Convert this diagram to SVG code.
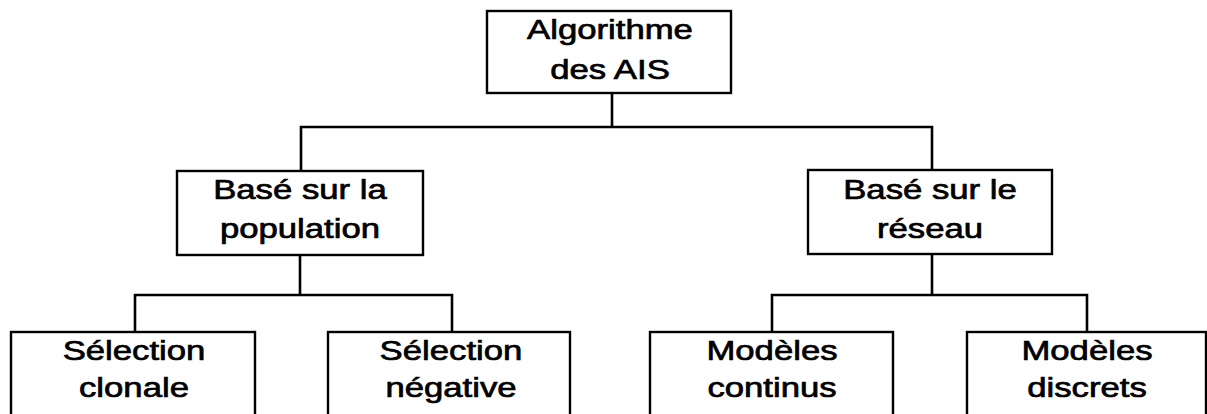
<svg xmlns="http://www.w3.org/2000/svg" width="1207" height="414" viewBox="0 0 1207 414">
  <style>
    .box { fill: #fff; stroke: #000; stroke-width: 2.4; }
    .link { fill: none; stroke: #000; stroke-width: 2.6; }
    .t {
      font-family: "Liberation Sans", Arial, sans-serif;
      font-size: 28px;
      fill: #000;
      stroke: #000;
      stroke-width: 0.7;
      text-anchor: middle;
      transform-box: fill-box;
      transform-origin: center;
      transform: scaleX(1.24);
    }
  </style>
  <rect width="1207" height="414" fill="#fff"/>

  <!-- tree connectors -->
  <g id="connectors">
    <path class="link" d="M612 93 V127 M301 171 V127 H932 V170"/>
    <path class="link" d="M300 255 V295 M135 332 V295 H452 V332"/>
    <path class="link" d="M932 254 V295 M772 332 V295 H1087 V332"/>
  </g>

  <!-- root -->
  <g id="root">
    <rect class="box" x="487" y="11" width="244" height="82"/>
    <text class="t" x="610" y="39.5">Algorithme</text>
    <text class="t" x="610" y="79.5">des AIS</text>
  </g>

  <!-- second level -->
  <g id="population">
    <rect class="box" x="177" y="171" width="246" height="84"/>
    <text class="t" x="300" y="199.5">Basé sur la</text>
    <text class="t" x="300" y="238.5">population</text>
  </g>
  <g id="reseau">
    <rect class="box" x="808" y="170" width="244" height="84"/>
    <text class="t" x="930" y="199.5">Basé sur le</text>
    <text class="t" x="930" y="238.5">réseau</text>
  </g>

  <!-- leaves (run past the lower edge) -->
  <g id="clonale">
    <rect class="box" x="11" y="332" width="244" height="100"/>
    <text class="t" x="134" y="360.5">Sélection</text>
    <text class="t" x="134" y="397.5">clonale</text>
  </g>
  <g id="negative">
    <rect class="box" x="328" y="332" width="242" height="100"/>
    <text class="t" x="451" y="360.5">Sélection</text>
    <text class="t" x="451" y="397.5">négative</text>
  </g>
  <g id="continus">
    <rect class="box" x="650" y="332" width="243" height="100"/>
    <text class="t" x="772" y="360.5">Modèles</text>
    <text class="t" x="772" y="397.5">continus</text>
  </g>
  <g id="discrets">
    <rect class="box" x="967" y="332" width="239" height="100"/>
    <text class="t" x="1087" y="360.5">Modèles</text>
    <text class="t" x="1087" y="397.5">discrets</text>
  </g>
</svg>
